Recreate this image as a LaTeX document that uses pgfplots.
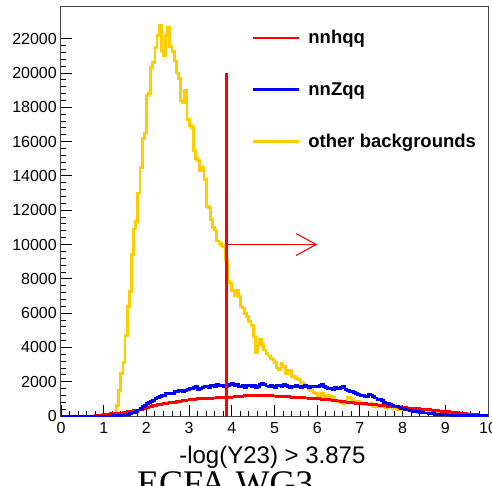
\documentclass[border=0pt]{standalone}
\usepackage{fontspec}
\setmainfont{Liberation Sans}
\newfontfamily\seriffont{Liberation Serif}
\usepackage{pgfplots}
\pgfplotsset{compat=1.18}
\usetikzlibrary{arrows.meta}
\definecolor{rootyellow}{RGB}{255,204,0}

\begin{document}
\begin{tikzpicture}
\useasboundingbox (-61pt,-69pt) rectangle (431pt,416pt);
\begin{axis}[
  at={(0pt,0pt)}, anchor=south west,
  scale only axis, width=427pt, height=409pt,
  xmin=0, xmax=10, ymin=0, ymax=23850,
  clip=false,
  axis line style={black!75, line width=1pt},
  xtick={0,1,...,10}, minor x tick num=4,
  ytick={0,2000,...,22000}, minor y tick num=4,
  xtick pos=bottom, ytick pos=left, tick align=inside,
  major tick length=11pt, minor tick length=5.5pt,
  tick style={black, line width=0.9pt},
  scaled y ticks=false,
  /pgf/number format/set thousands separator={},
  /pgf/number format/assume math mode=true,
  ticklabel style={font=\fontsize{16}{19}\selectfont},
  yticklabel style={anchor=east, inner sep=0pt, xshift=-4pt},
  xticklabel style={anchor=north, inner sep=0pt, yshift=-6pt},
  xlabel={-log(Y23) > 3.875},
  xlabel style={font=\fontsize{24}{28}\selectfont, at={(axis description cs:0.495,0)}, anchor=base, yshift=-47pt, inner sep=0pt},
  legend style={draw=none, fill=none, at={(axis description cs:0.446,0.943)}, anchor=north west,
    inner sep=0pt, nodes={inner sep=0pt}, font=\bfseries\fontsize{18.5}{22}\selectfont,
    row sep=37pt, /tikz/every odd column/.append style={column sep=8pt}},
  legend cell align=left,
  legend image code/.code={\draw[#1] (0pt,0pt) -- (46pt,0pt);},
]
\addlegendimage{red, line width=2.8pt}\addlegendentry{nnhqq}
\addlegendimage{blue, line width=2.8pt}\addlegendentry{nnZqq}
\addlegendimage{rootyellow, line width=2.8pt}\addlegendentry{other backgrounds}

% other backgrounds
\addplot[rootyellow, line width=2.8pt, const plot mark left, forget plot] coordinates {
(0,0) (1.20,20) (1.25,80) (1.30,600) (1.35,1500) (1.40,2500) (1.45,3100) (1.50,4700) (1.55,6400) (1.60,7250) (1.65,9400) (1.70,10900) (1.75,11350) (1.80,13000) (1.85,14500) (1.90,16200) (1.95,16500) (2.00,18700) (2.05,18800) (2.10,20300) (2.15,20600) (2.20,21500) (2.25,22200) (2.30,22750) (2.35,21300) (2.40,21000) (2.45,22200) (2.50,22650) (2.55,21550) (2.60,21250) (2.65,20700) (2.70,20000) (2.75,19700) (2.80,18400) (2.85,18300) (2.90,19000) (2.95,17300) (3.00,16950) (3.05,16800) (3.10,15500) (3.15,15000) (3.20,14900) (3.25,14300) (3.30,14500) (3.35,13800) (3.40,12200) (3.45,12150) (3.50,11450) (3.55,11000) (3.60,10850) (3.65,10200) (3.70,10050) (3.75,9950) (3.80,9850) (3.85,9100) (3.90,7850) (3.95,7750) (4.00,7300) (4.05,7000) (4.10,7350) (4.15,6950) (4.20,6400) (4.25,6300) (4.30,6000) (4.35,5800) (4.40,5500) (4.45,5300) (4.50,4650) (4.55,3700) (4.60,4250) (4.65,4450) (4.70,4150) (4.75,3850) (4.80,3660) (4.85,3500) (4.90,3370) (4.95,3270) (5.00,3100) (5.05,2800) (5.10,2700) (5.15,3050) (5.20,2880) (5.25,2500) (5.30,2650) (5.35,2680) (5.40,2300) (5.45,2290) (5.50,2200) (5.55,2150) (5.60,1950) (5.65,1900) (5.70,1750) (5.75,1700) (5.80,1550) (5.85,1500) (5.90,1350) (5.95,1300) (6.00,1130) (6.05,1150) (6.10,1330) (6.15,1150) (6.20,1230) (6.25,1180) (6.30,1130) (6.35,1100) (6.40,900) (6.45,830) (6.50,900) (6.55,760) (6.60,740) (6.65,850) (6.70,1100) (6.75,1050) (6.80,900) (6.85,830) (6.90,800) (6.95,830) (7.00,750) (7.05,740) (7.10,640) (7.15,640) (7.20,700) (7.25,740) (7.30,560) (7.35,540) (7.40,600) (7.45,540) (7.50,640) (7.55,540) (7.60,500) (7.65,540) (7.70,700) (7.75,450) (7.80,500) (7.85,400) (7.90,540) (7.95,350) (8.00,380) (8.05,350) (8.10,350) (8.15,300) (8.20,350) (8.25,280) (8.30,250) (8.35,220) (8.40,250) (8.45,200) (8.50,170) (8.55,180) (8.60,210) (8.65,170) (8.70,250) (8.75,350) (8.80,200) (8.85,250) (8.90,120) (8.95,100) (9.00,100) (9.05,80) (9.10,70) (9.15,60) (9.20,60) (9.25,50) (9.30,40) (9.35,40) (9.40,30) (9.45,30) (9.50,25) (9.55,20) (9.60,20) (9.65,15) (9.70,15) (9.75,10) (9.80,10) (9.85,10) (9.90,5) (9.95,5) (10,5)
};
% nnhqq
\addplot[red, line width=2.8pt, const plot mark left, forget plot] coordinates {
(0,0) (0.80,20) (0.85,30) (0.90,50) (0.95,60) (1.00,80) (1.05,100) (1.10,110) (1.15,130) (1.20,140) (1.25,150) (1.30,150) (1.35,160) (1.40,180) (1.45,200) (1.50,220) (1.55,240) (1.60,260) (1.65,280) (1.70,300) (1.75,320) (1.80,350) (1.85,380) (1.90,420) (1.95,450) (2.00,480) (2.05,520) (2.10,560) (2.15,600) (2.20,630) (2.25,660) (2.30,680) (2.35,700) (2.40,720) (2.45,740) (2.50,760) (2.55,780) (2.60,800) (2.65,810) (2.70,830) (2.75,850) (2.80,870) (2.85,890) (2.90,910) (2.95,930) (3.00,950) (3.05,960) (3.10,980) (3.15,990) (3.20,1000) (3.25,1010) (3.30,1020) (3.35,1030) (3.40,1030) (3.45,1040) (3.50,1040) (3.55,1050) (3.60,1050) (3.65,1060) (3.70,1060) (3.75,1070) (3.80,1070) (3.85,1080) (3.90,1090) (3.95,1100) (4.00,1110) (4.05,1120) (4.10,1140) (4.15,1150) (4.20,1160) (4.25,1170) (4.30,1180) (4.35,1190) (4.40,1200) (4.45,1200) (4.50,1210) (4.55,1200) (4.60,1210) (4.65,1200) (4.70,1200) (4.75,1190) (4.80,1190) (4.85,1180) (4.90,1180) (4.95,1170) (5.00,1170) (5.05,1160) (5.10,1160) (5.15,1150) (5.20,1140) (5.25,1130) (5.30,1120) (5.35,1110) (5.40,1100) (5.45,1100) (5.50,1090) (5.55,1080) (5.60,1070) (5.65,1060) (5.70,1050) (5.75,1050) (5.80,1040) (5.85,1030) (5.90,1020) (5.95,1010) (6.00,1000) (6.05,990) (6.10,970) (6.15,960) (6.20,950) (6.25,940) (6.30,930) (6.35,910) (6.40,900) (6.45,880) (6.50,870) (6.55,850) (6.60,840) (6.65,820) (6.70,810) (6.75,790) (6.80,780) (6.85,760) (6.90,750) (6.95,740) (7.00,730) (7.05,720) (7.10,710) (7.15,700) (7.20,690) (7.25,670) (7.30,660) (7.35,650) (7.40,640) (7.45,630) (7.50,620) (7.55,600) (7.60,590) (7.65,570) (7.70,560) (7.75,550) (7.80,540) (7.85,530) (7.90,510) (7.95,500) (8.00,490) (8.05,480) (8.10,470) (8.15,460) (8.20,450) (8.25,440) (8.30,430) (8.35,420) (8.40,400) (8.45,390) (8.50,380) (8.55,370) (8.60,360) (8.65,350) (8.70,330) (8.75,320) (8.80,300) (8.85,290) (8.90,280) (8.95,270) (9.00,260) (9.05,250) (9.10,230) (9.15,220) (9.20,200) (9.25,190) (9.30,180) (9.35,170) (9.40,150) (9.45,140) (9.50,120) (9.55,110) (9.60,100) (9.65,90) (9.70,70) (9.75,60) (9.80,50) (9.85,40) (9.90,30) (9.95,20) (10,20)
};
% nnZqq
\addplot[blue, line width=2.8pt, const plot mark left, forget plot] coordinates {
(0,0) (1.20,10) (1.25,20) (1.30,30) (1.35,40) (1.40,50) (1.45,60) (1.50,80) (1.55,100) (1.60,130) (1.65,170) (1.70,200) (1.75,280) (1.80,350) (1.85,450) (1.90,560) (1.95,620) (2.00,720) (2.05,800) (2.10,850) (2.15,920) (2.20,1000) (2.25,1100) (2.30,1130) (2.35,1230) (2.40,1200) (2.45,1320) (2.50,1300) (2.55,1330) (2.60,1300) (2.65,1420) (2.70,1450) (2.75,1520) (2.80,1480) (2.85,1420) (2.90,1500) (2.95,1550) (3.00,1610) (3.05,1580) (3.10,1650) (3.15,1710) (3.20,1520) (3.25,1600) (3.30,1650) (3.35,1710) (3.40,1720) (3.45,1680) (3.50,1760) (3.55,1810) (3.60,1700) (3.65,1850) (3.70,1800) (3.75,1780) (3.80,1720) (3.85,1700) (3.90,1760) (3.95,1820) (4.00,1900) (4.05,1780) (4.10,1850) (4.15,1700) (4.20,1720) (4.25,1780) (4.30,1650) (4.35,1760) (4.40,1810) (4.45,1700) (4.50,1780) (4.55,1650) (4.60,1720) (4.65,1850) (4.70,1900) (4.75,1820) (4.80,1750) (4.85,1700) (4.90,1760) (4.95,1700) (5.00,1650) (5.05,1760) (5.10,1800) (5.15,1700) (5.20,1820) (5.25,1760) (5.30,1700) (5.35,1650) (5.40,1720) (5.45,1700) (5.50,1760) (5.55,1700) (5.60,1650) (5.65,1720) (5.70,1800) (5.75,1700) (5.80,1650) (5.85,1720) (5.90,1700) (5.95,1720) (6.00,1700) (6.05,1780) (6.10,1820) (6.15,1700) (6.20,1650) (6.25,1620) (6.30,1600) (6.35,1560) (6.40,1650) (6.45,1600) (6.50,1620) (6.55,1680) (6.60,1720) (6.65,1560) (6.70,1500) (6.75,1450) (6.80,1420) (6.85,1350) (6.90,1300) (6.95,1250) (7.00,1200) (7.05,1180) (7.10,1130) (7.15,1150) (7.20,1250) (7.25,1230) (7.30,1130) (7.35,1050) (7.40,980) (7.45,950) (7.50,900) (7.55,800) (7.60,760) (7.65,720) (7.70,660) (7.75,620) (7.80,580) (7.85,560) (7.90,520) (7.95,460) (8.00,420) (8.05,380) (8.10,350) (8.15,320) (8.20,290) (8.25,270) (8.30,250) (8.35,240) (8.40,220) (8.45,200) (8.50,180) (8.55,170) (8.60,160) (8.65,150) (8.70,130) (8.75,110) (8.80,100) (8.85,90) (8.90,80) (8.95,70) (9.00,65) (9.05,60) (9.10,55) (9.15,50) (9.20,45) (9.25,40) (9.30,40) (9.35,35) (9.40,30) (9.45,30) (9.50,28) (9.55,25) (9.60,25) (9.65,22) (9.70,20) (9.75,20) (9.80,20) (9.85,20) (9.90,20) (9.95,20) (10,20)
};
% cut
\addplot[red, line width=2.8pt, forget plot] coordinates {(3.875,0) (3.875,20000)};
\addplot[red, line width=1.1pt, forget plot, -{Straight Barb[length=20pt, width=22pt]}] coordinates {(3.875,10000) (6,10000)};
\end{axis}
\node[anchor=base west, font=\seriffont\fontsize{36}{40}\selectfont, inner sep=0pt] at (76pt,-79pt) {ECFA WG3};
\end{tikzpicture}
\end{document}
